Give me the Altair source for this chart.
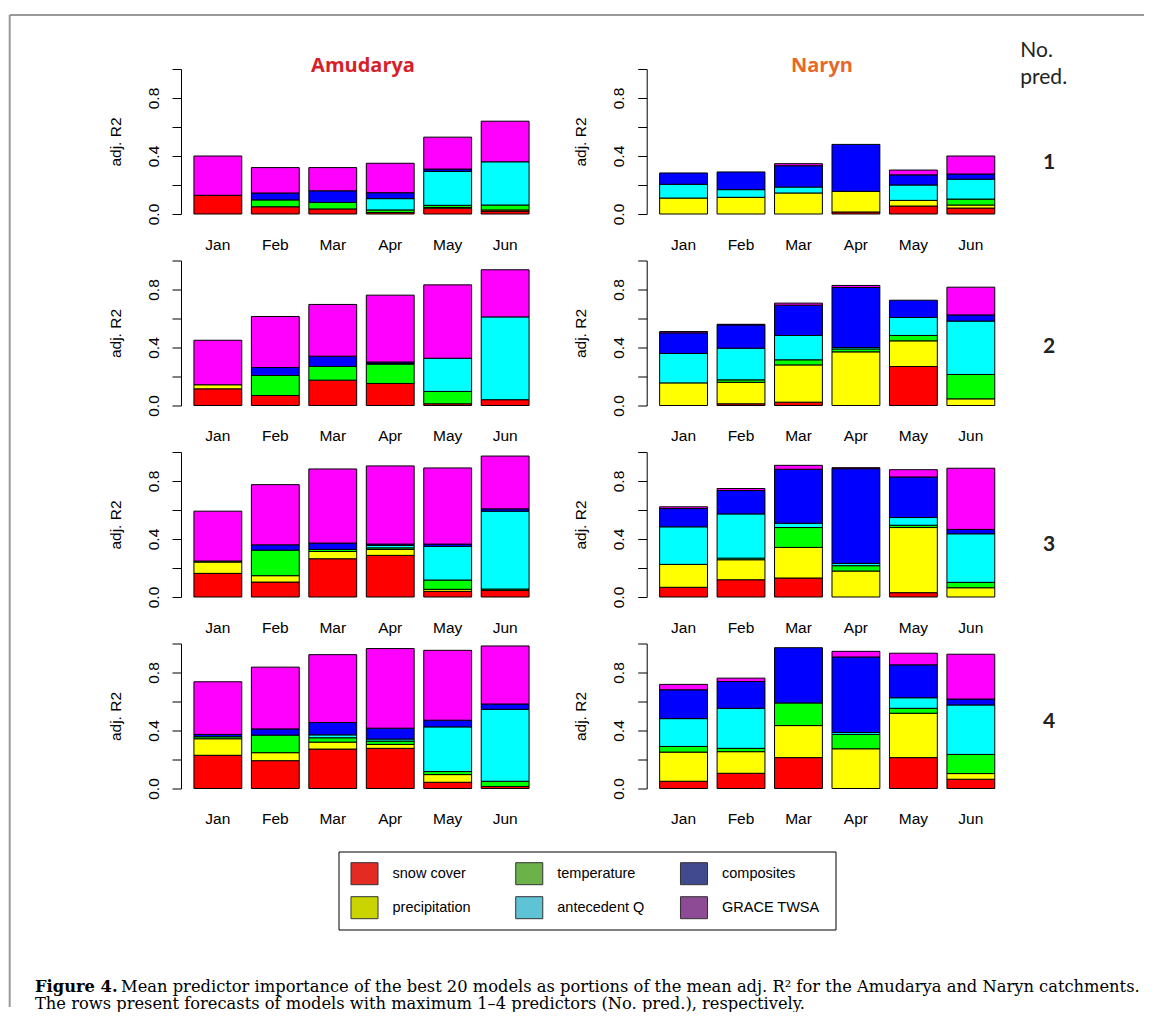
import altair as alt
import pandas as pd

# ---------------- data ----------------
months = ["Jan", "Feb", "Mar", "Apr", "May", "Jun"]
predictors = ["snow cover", "precipitation", "temperature", "antecedent Q", "composites", "GRACE TWSA"]
bar_colors = ["#FF0000", "#FFFF00", "#00FF00", "#00FFFF", "#0000FF", "#FF00FF"]
legend_colors = ["#E32B24", "#C9D400", "#6CB24A", "#5DC3D5", "#414A8E", "#8C4B94"]
catchments = ["Amudarya", "Naryn"]
title_colors = ["#D81E28", "#E5692B"]
n_pred = [1, 2, 3, 4]
y_ticks = [0.0, 0.2, 0.4, 0.6, 0.8, 1.0]
y_tick_labels = ["0.0", "0.4", "0.8"]

# mean predictor importance (portion of adj. R2), Jan..Jun
amudarya_1 = {
    "snow cover":    [0.129, 0.050, 0.035, 0.010, 0.040, 0.020],
    "precipitation": [0.000, 0.000, 0.000, 0.000, 0.005, 0.008],
    "temperature":   [0.000, 0.047, 0.045, 0.018, 0.015, 0.034],
    "antecedent Q":  [0.000, 0.000, 0.000, 0.078, 0.234, 0.298],
    "composites":    [0.000, 0.048, 0.080, 0.041, 0.016, 0.000],
    "GRACE TWSA":    [0.271, 0.175, 0.160, 0.203, 0.220, 0.280],
}
amudarya_2 = {
    "snow cover":    [0.115, 0.069, 0.175, 0.152, 0.012, 0.040],
    "precipitation": [0.028, 0.000, 0.000, 0.000, 0.000, 0.000],
    "temperature":   [0.000, 0.138, 0.094, 0.133, 0.085, 0.000],
    "antecedent Q":  [0.000, 0.000, 0.000, 0.005, 0.229, 0.571],
    "composites":    [0.000, 0.055, 0.071, 0.010, 0.000, 0.000],
    "GRACE TWSA":    [0.307, 0.352, 0.357, 0.461, 0.506, 0.325],
}
amudarya_3 = {
    "snow cover":    [0.163, 0.103, 0.264, 0.287, 0.039, 0.046],
    "precipitation": [0.078, 0.044, 0.050, 0.041, 0.014, 0.000],
    "temperature":   [0.007, 0.176, 0.014, 0.011, 0.064, 0.009],
    "antecedent Q":  [0.000, 0.000, 0.000, 0.017, 0.232, 0.537],
    "composites":    [0.000, 0.037, 0.044, 0.009, 0.016, 0.016],
    "GRACE TWSA":    [0.344, 0.415, 0.511, 0.539, 0.525, 0.364],
}
amudarya_4 = {
    "snow cover":    [0.229, 0.192, 0.272, 0.277, 0.043, 0.014],
    "precipitation": [0.114, 0.055, 0.048, 0.027, 0.053, 0.000],
    "temperature":   [0.014, 0.121, 0.030, 0.023, 0.021, 0.036],
    "antecedent Q":  [0.000, 0.000, 0.020, 0.014, 0.308, 0.496],
    "composites":    [0.016, 0.043, 0.085, 0.075, 0.046, 0.037],
    "GRACE TWSA":    [0.363, 0.426, 0.468, 0.549, 0.482, 0.400],
}
naryn_1 = {
    "snow cover":    [0.000, 0.000, 0.000, 0.014, 0.055, 0.041],
    "precipitation": [0.110, 0.115, 0.145, 0.142, 0.039, 0.021],
    "temperature":   [0.000, 0.000, 0.000, 0.000, 0.000, 0.041],
    "antecedent Q":  [0.095, 0.053, 0.041, 0.000, 0.106, 0.137],
    "composites":    [0.078, 0.122, 0.147, 0.324, 0.070, 0.036],
    "GRACE TWSA":    [0.000, 0.000, 0.014, 0.000, 0.033, 0.124],
}
naryn_2 = {
    "snow cover":    [0.000, 0.012, 0.023, 0.000, 0.269, 0.000],
    "precipitation": [0.156, 0.148, 0.257, 0.370, 0.177, 0.046],
    "temperature":   [0.000, 0.017, 0.035, 0.020, 0.037, 0.168],
    "antecedent Q":  [0.203, 0.218, 0.168, 0.010, 0.124, 0.368],
    "composites":    [0.142, 0.161, 0.209, 0.414, 0.119, 0.043],
    "GRACE TWSA":    [0.009, 0.004, 0.014, 0.014, 0.000, 0.191],
}
naryn_3 = {
    "snow cover":    [0.067, 0.119, 0.131, 0.000, 0.030, 0.000],
    "precipitation": [0.158, 0.138, 0.211, 0.179, 0.449, 0.064],
    "temperature":   [0.000, 0.011, 0.137, 0.037, 0.016, 0.037],
    "antecedent Q":  [0.259, 0.305, 0.030, 0.016, 0.053, 0.335],
    "composites":    [0.126, 0.161, 0.372, 0.653, 0.280, 0.030],
    "GRACE TWSA":    [0.012, 0.014, 0.027, 0.007, 0.050, 0.422],
}
naryn_4 = {
    "snow cover":    [0.050, 0.105, 0.213, 0.000, 0.213, 0.064],
    "precipitation": [0.201, 0.149, 0.221, 0.274, 0.306, 0.039],
    "temperature":   [0.039, 0.023, 0.156, 0.099, 0.034, 0.132],
    "antecedent Q":  [0.192, 0.276, 0.000, 0.013, 0.073, 0.341],
    "composites":    [0.199, 0.185, 0.381, 0.521, 0.227, 0.041],
    "GRACE TWSA":    [0.037, 0.023, 0.000, 0.039, 0.080, 0.309],
}

caption_bold = "Figure 4."
caption_line1 = ("Mean predictor importance of the best 20 models as portions of the mean adj. R\u00b2 "
                 "for the Amudarya and Naryn catchments.")
caption_line2 = ("The rows present forecasts of models with maximum 1\u20134 predictors (No. pred.), "
                 "respectively.")

panels = {
    ("Amudarya", 1): amudarya_1, ("Amudarya", 2): amudarya_2,
    ("Amudarya", 3): amudarya_3, ("Amudarya", 4): amudarya_4,
    ("Naryn", 1): naryn_1, ("Naryn", 2): naryn_2,
    ("Naryn", 3): naryn_3, ("Naryn", 4): naryn_4,
}

records = []
for (c, n), comp in panels.items():
    for k, p in enumerate(predictors):
        for m, v in zip(months, comp[p]):
            if v > 0:
                records.append(dict(catchment=c, npred=n, month=m, predictor=p, order=k, value=v))
df = pd.DataFrame(records)
dummy = pd.DataFrame({"k": [0]})

# ---------------- layout / style ----------------
FONT = "Liberation Sans"
SERIF = "DejaVu Serif"
FRAME = "#999999"
PW, PH = 361, 145
ROW_LABEL_Y = [99.5, 92, 98.8, 84.2]
CAP = 16.3

label_expr = "indexof(%s, format(datum.value, '.1f')) >= 0 ? format(datum.value, '.1f') : ''" % (
    "[" + ",".join("'%s'" % s for s in y_tick_labels) + "]")


def txt(text, x, y, **kw):
    return alt.Chart(dummy).mark_text(text=text, **kw).encode(x=alt.value(x), y=alt.value(y))


def panel(c, n):
    sub = df[(df.catchment == c) & (df.npred == n)]
    return alt.Chart(sub).mark_bar(stroke="black", strokeWidth=1).encode(
        x=alt.X("month:N", sort=months,
                scale=alt.Scale(domain=months, paddingInner=0.167, paddingOuter=0.225),
                axis=alt.Axis(title=None, labelAngle=0, domain=False, ticks=False, tickSize=0,
                              labelPadding=23, labelFont=FONT, labelFontSize=15.5,
                              labelColor="black")),
        y=alt.Y("value:Q", stack="zero", scale=alt.Scale(domain=[0, 1], nice=False),
                axis=alt.Axis(title="adj. R2", values=y_ticks, labelExpr=label_expr,
                              labelAngle=270, labelAlign="center", labelBaseline="bottom",
                              labelPadding=11, labelFlush=False, labelOverlap=False,
                              tickSize=9, tickColor="black", domainColor="black", grid=False,
                              labelFont=FONT, labelFontSize=15.5, labelColor="black",
                              titleFont=FONT, titleFontSize=15.5, titleFontWeight="normal",
                              titleColor="black", titlePadding=23)),
        color=alt.Color("predictor:N", scale=alt.Scale(domain=predictors, range=bar_colors),
                        legend=None),
        order=alt.Order("order:Q", sort="ascending"),
    ).properties(width=PW, height=PH)


cells = []
for i, n in enumerate(n_pred):
    left_layers = [panel(catchments[0], n)]
    if i == 0:
        left_layers += [
            alt.Chart(dummy).mark_rule(color=FRAME, strokeWidth=2).encode(
                x=alt.value(-171.3), x2=alt.value(963), y=alt.value(-54)),
            alt.Chart(dummy).mark_rule(color=FRAME, strokeWidth=2).encode(
                x=alt.value(-171.3), y=alt.value(-54), y2=alt.value(938)),
            txt(catchments[0], 182, 2.7, font="Open Sans", fontSize=20, fontWeight="bold",
                color=title_colors[0], align="center", baseline="alphabetic"),
            txt(catchments[1], 641, 2.7, font="Open Sans", fontSize=20, fontWeight="bold",
                color=title_colors[1], align="center", baseline="alphabetic"),
            txt("No.", 839.3, -12.3, font="Lato", fontSize=21, color="#222222",
                align="left", baseline="alphabetic"),
            txt("pred.", 839.3, 15.3, font="Lato", fontSize=21, color="#222222",
                align="left", baseline="alphabetic"),
        ]
    left = alt.layer(*left_layers).properties(width=PW, height=PH)
    right = alt.layer(
        panel(catchments[1], n),
        txt(str(n), 402.3, ROW_LABEL_Y[i], font="Lato", fontSize=21, fontWeight="bold",
            color="#222222", align="center", baseline="alphabetic"),
    ).properties(width=PW, height=PH)
    cells += [left, right]

# legend + caption (below the last row)
leg_df = pd.DataFrame({
    "predictor": predictors,
    "color": legend_colors,
    "col": [i // 2 for i in range(len(predictors))],
    "row": [i % 2 for i in range(len(predictors))],
})
lx = alt.X("col:O", scale=alt.Scale(type="point", range=[183.5, 513], padding=0), axis=None)
ly = alt.Y("row:O", scale=alt.Scale(type="point", range=[38.7, 72.7], padding=0), axis=None)
bottom = alt.layer(
    alt.Chart(dummy).mark_rect(fillOpacity=0, stroke="black", strokeWidth=1).encode(
        x=alt.value(158), x2=alt.value(655), y=alt.value(17), y2=alt.value(95)),
    alt.Chart(leg_df).mark_point(shape="M-1.23,-1H1.23V1H-1.23Z", size=484, filled=True,
                                 stroke="#333333", strokeWidth=1, opacity=1).encode(
        x=lx, y=ly, fill=alt.Fill("color:N", scale=None)),
    alt.Chart(leg_df).mark_text(align="left", baseline="middle", dx=28, font=FONT,
                                fontSize=14.5, color="black").encode(
        x=lx, y=ly, text="predictor:N"),
    txt(caption_bold, -146, 156.5, font=SERIF, fontSize=CAP, fontWeight="bold",
        align="left", baseline="alphabetic", color="black"),
    txt(caption_line1, -60, 156.5, font=SERIF, fontSize=CAP,
        align="left", baseline="alphabetic", color="black"),
    txt(caption_line2, -146, 173.5, font=SERIF, fontSize=CAP,
        align="left", baseline="alphabetic", color="black"),
).properties(width=PW, height=1)
cells.append(bottom)

chart = alt.concat(
    *cells, columns=2, spacing={"row": 46.5, "column": 104.7}, bounds="flush"
).properties(
    padding={"left": 0, "top": 6, "right": 0, "bottom": 0}
).configure(font=FONT).configure_view(stroke=None)

chart.save("out.html", embed_options={"renderer": "svg", "actions": False})
